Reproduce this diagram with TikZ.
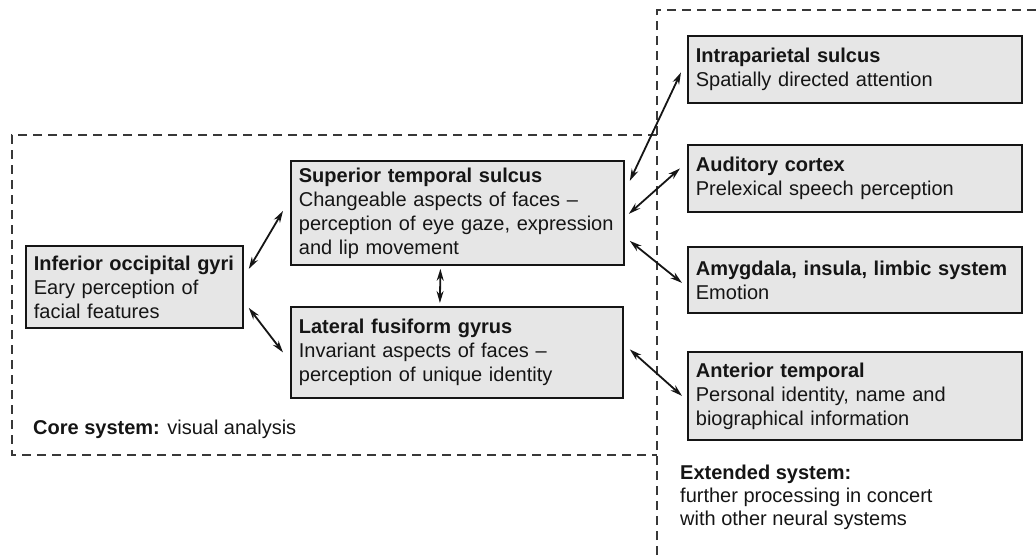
\documentclass[tikz,border=0pt]{standalone}
\usepackage{fontspec}
\setmainfont{Liberation Sans}
\usetikzlibrary{arrows.meta}
\definecolor{boxfill}{HTML}{E6E6E6}
\definecolor{ink}{HTML}{151515}
\tikzset{
  region/.style={draw=ink,fill=boxfill,line width=1.8pt,rectangle,anchor=north west,
    align=left,inner xsep=8pt,inner ysep=0pt,text=ink,font=\fontsize{20}{24}\selectfont},
  caption/.style={anchor=west,align=left,inner sep=0pt,text=ink,font=\fontsize{20}{23}\selectfont},
  frame/.style={draw=ink!85,line width=1.5pt,dash pattern=on 9pt off 6pt},
  link/.style={draw=ink,line width=1.8pt,{Stealth[length=12pt,width=7pt]}-{Stealth[length=12pt,width=7pt]}},
}
\begin{document}
\begin{tikzpicture}[x=1pt,y=-1pt]
  \useasboundingbox (0,0) rectangle (1036,555);
  \draw[frame] (657,135) -- (12,135) -- (12,455) -- (657,455);
  \draw[frame] (657,555) -- (657,10) -- (1036,10);

  \node[region,text width=201pt,minimum height=82pt] (ioc) at (25,245)
    {\textbf{Inferior occipital gyri}\\Eary perception of\\facial features};
  \node[region,text width=317pt,minimum height=104pt] (sts) at (290,160)
    {\textbf{Superior temporal sulcus}\\Changeable aspects of faces --\\perception of eye gaze, expression\\and lip movement};
  \node[region,text width=316pt,minimum height=91pt] (lfg) at (290,306)
    {\textbf{Lateral fusiform gyrus}\\Invariant aspects of faces --\\perception of unique identity};

  \node[region,text width=318pt,minimum height=67pt] (ips) at (687,35)
    {\textbf{Intraparietal sulcus}\\Spatially directed attention};
  \node[region,text width=318pt,minimum height=67pt] (aud) at (687,144)
    {\textbf{Auditory cortex}\\Prelexical speech perception};
  \node[region,text width=318pt,minimum height=66pt] (amy) at (687,246)
    {\textbf{Amygdala, insula, limbic system}\\Emotion};
  \node[region,text width=318pt,minimum height=88pt] (ant) at (687,351)
    {\textbf{Anterior temporal}\\Personal identity, name and\\biographical information};

  \node[caption] (corelbl) at (33,429) {\textbf{Core system:} visual analysis};
  \node[caption] (extlbl) at (680,497)
    {\textbf{Extended system:}\\further processing in concert\\with other neural systems};

  \draw[link] ([xshift=5pt,yshift=18pt]ioc.east) -- ([xshift=-7pt,yshift=2pt]sts.west);
  \draw[link] ([xshift=5pt,yshift=-21pt]ioc.east) -- ([xshift=-7pt]lfg.west);
  \draw[link] ([xshift=-17pt,yshift=-3pt]sts.south) -- ([xshift=-17pt,yshift=3pt]lfg.north);
  \draw[link] ([xshift=5pt,yshift=32pt]sts.east) -- ([xshift=-6pt,yshift=-3pt]ips.west);
  \draw[link] ([xshift=4pt,yshift=-1pt]sts.east) -- ([xshift=-7pt,yshift=10pt]aud.west);
  \draw[link] ([xshift=5pt,yshift=-28pt]sts.east) -- ([xshift=-5pt,yshift=-3pt]amy.west);
  \draw[link] ([xshift=6pt,yshift=3pt]lfg.east) -- ([xshift=-5pt]ant.west);
\end{tikzpicture}
\end{document}
